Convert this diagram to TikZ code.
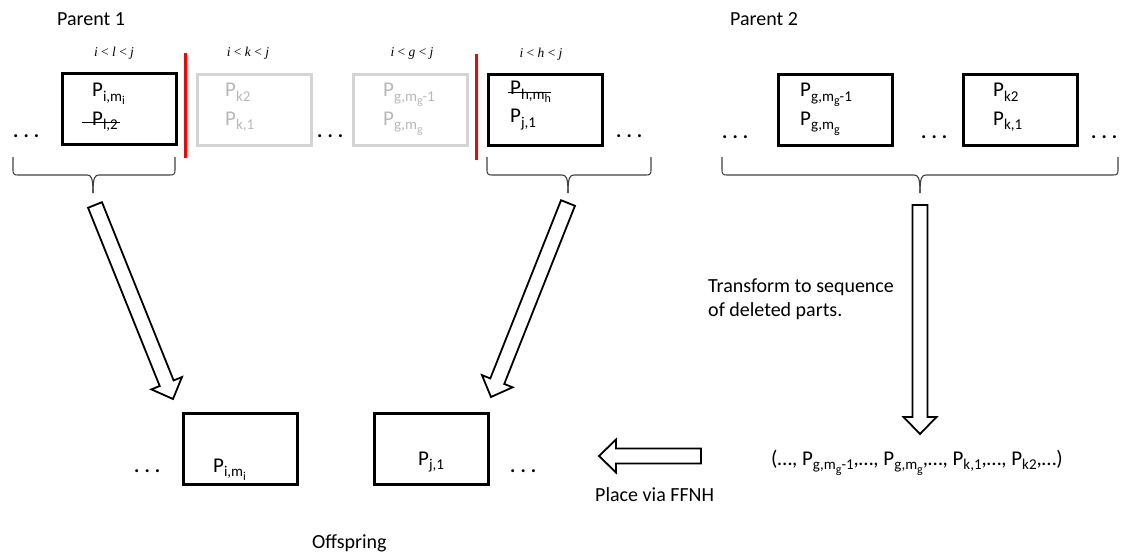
\documentclass[tikz,border=0pt]{standalone}
\usepackage{fontspec}
\setmainfont{Carlito}
\newfontfamily\rangefont{Liberation Serif}
\usetikzlibrary{calc}

% subscripts in the style of the slide text
\newcommand\subx[1]{\raisebox{-4.5pt}{\fontsize{15}{15}\selectfont #1}}
\newcommand\subsubx[1]{\raisebox{-3.5pt}{\fontsize{12}{12}\selectfont #1}}
\newcommand\dotrow{{\bfseries .\hspace{5pt}.\hspace{5pt}.}}
\newcommand\rng[1]{\textit{i} < \textit{#1} < \textit{j}}

% hollow block arrow from #1 to #2
\newcommand\blockarrow[2]{%
  \coordinate (ba-base) at ($(#2)!17pt!(#1)$);
  \draw[hollow] ($(#1)!7.5pt!90:(#2)$) -- ($(ba-base)!7.5pt!90:(#2)$)
    -- ($(ba-base)!16.5pt!90:(#2)$) -- (#2)
    -- ($(ba-base)!16.5pt!-90:(#2)$) -- ($(ba-base)!7.5pt!-90:(#2)$)
    -- ($(#1)!7.5pt!-90:(#2)$) -- cycle;}

% horizontal curly brace: left end, right end, tip
\newcommand\curlyunder[3]{%
  \draw[brace] (#1,157) -- (#1,170) .. controls (#1,174) and (#1+1,175) .. (#1+5,175)
    -- (#3-6,175) .. controls (#3-2,175) and (#3,177) .. (#3,193);
  \draw[brace] (#3,193) .. controls (#3,177) and (#3+2,175) .. (#3+6,175)
    -- (#2-5,175) .. controls (#2-1,175) and (#2,174) .. (#2,170) -- (#2,157);}

\tikzset{
  part/.style={draw=black, line width=2.8pt, minimum width=114pt, minimum height=71pt,
    inner sep=0pt, anchor=north west},
  ghost/.style={part, draw=black!17},
  cut/.style={draw=red, line width=3pt},
  lbl/.style={inner sep=0pt, font=\fontsize{20}{24}\selectfont, anchor=base west},
  pp/.style={inner sep=0pt, font=\fontsize{21}{24}\selectfont, anchor=base west},
  ppg/.style={pp, text=black!28},
  rngl/.style={inner sep=0pt, font=\rangefont\fontsize{13.5}{15}\selectfont},
  strike/.style={line width=1pt},
  brace/.style={draw=black!75, line width=1.1pt},
  hollow/.style={draw=black, line width=1.8pt, fill=white, line join=miter},
}

\begin{document}
\begin{tikzpicture}[x=1pt, y=-1pt]
\useasboundingbox (0,0) rectangle (1121,559);

% ---------- Parent 1 ----------
\node[lbl] (p1) at (57,26) {Parent 1};
\node[rngl] (r1) at (114,53) {\rng{l}};
\node[rngl] (r2) at (248,53) {\rng{k}};
\node[rngl] (r3) at (412,53) {\rng{g}};
\node[rngl] (r4) at (541,54) {\rng{h}};

\node[part]  (a1) at (61,72) {};
\node[ghost] (a2) at (196,73) {};
\node[ghost] (a3) at (352,73) {};
\node[part]  (a4) at (487,73) {};

\draw[cut] (185,53) -- (185,158);
\draw[cut] (476,54) -- (476,160);

\node[lbl] (d1) at (13,138) {\dotrow};
\node[lbl] (d2) at (317,138) {\dotrow};
\node[lbl] (d3) at (616,138) {\dotrow};

\node[pp] (t11) at (92,97) {P\subx{i,m\subsubx{i}}};
\node[pp] (t12) at (92,125) {P\subx{l,2}};
\draw[strike] ([xshift=-10pt,yshift=2.5pt]t12.base west) -- ([xshift=2pt,yshift=2.5pt]t12.base east);
\node[ppg] (t21) at (225,97) {P\subx{k2}};
\node[ppg] (t22) at (225,125) {P\subx{k,1}};
\node[ppg] (t31) at (383,97) {P\subx{g,m\subsubx{g}-1}};
\node[ppg] (t32) at (383,125) {P\subx{g,m\subsubx{g}}};
\node[pp] (t41) at (510,95) {P\subx{h,m\subsubx{h}}};
\draw[strike] ([xshift=-2pt,yshift=2.5pt]t41.base west) -- ([yshift=2.5pt]t41.base east);
\node[pp] (t42) at (510,123) {P\subx{j,1}};

\curlyunder{13}{175}{93}
\curlyunder{487}{651}{568}

% ---------- Parent 2 ----------
\node[lbl] (p2) at (730,26) {Parent 2};
\node[part] (b1) at (777,73) {};
\node[part] (b2) at (962,73) {};
\node[pp] (u11) at (800,97) {P\subx{g,m\subsubx{g}-1}};
\node[pp] (u12) at (800,125) {P\subx{g,m\subsubx{g}}};
\node[pp] (u21) at (993,97) {P\subx{k2}};
\node[pp] (u22) at (993,125) {P\subx{k,1}};
\node[lbl] (e1) at (722,139) {\dotrow};
\node[lbl] (e2) at (921,139) {\dotrow};
\node[lbl] (e3) at (1091,139) {\dotrow};
\curlyunder{722}{1118}{920}

% ---------- Offspring ----------
\node[part] (c1) at (182,412) {};
\node[part] (c2) at (373,412) {};
\node[pp] (v1) at (213,472) {P\subx{i,m\subsubx{i}}};
\node[pp] (v2) at (418,465) {P\subx{j,1}};
\node[lbl] (f1) at (134,472) {\dotrow};
\node[lbl] (f2) at (510,472) {\dotrow};
\node[lbl] (off) at (312,548) {Offspring};

% ---------- sequence and labels ----------
\node[pp] (seq) at (771,465) {(…, P\subx{g,m\subsubx{g}-1},…, P\subx{g,m\subsubx{g}},…, P\subx{k,1},…, P\subx{k2},…)};
\node[lbl, align=left, anchor=north west] (tr) at (708,279) {Transform to sequence\\of deleted parts.};
\node[lbl] (ffnh) at (595,501) {Place via FFNH};

% ---------- block arrows ----------
\coordinate (s1) at (95,205);   \coordinate (h1) at (173,399);
\coordinate (s2) at (568,203);  \coordinate (h2) at (491,397);
\coordinate (s3) at (920,205);  \coordinate (h3) at (920,434);
\coordinate (s4) at (701,456);  \coordinate (h4) at (599,456);
\blockarrow{s1}{h1}
\blockarrow{s2}{h2}
\blockarrow{s3}{h3}
\blockarrow{s4}{h4}
\end{tikzpicture}
\end{document}
